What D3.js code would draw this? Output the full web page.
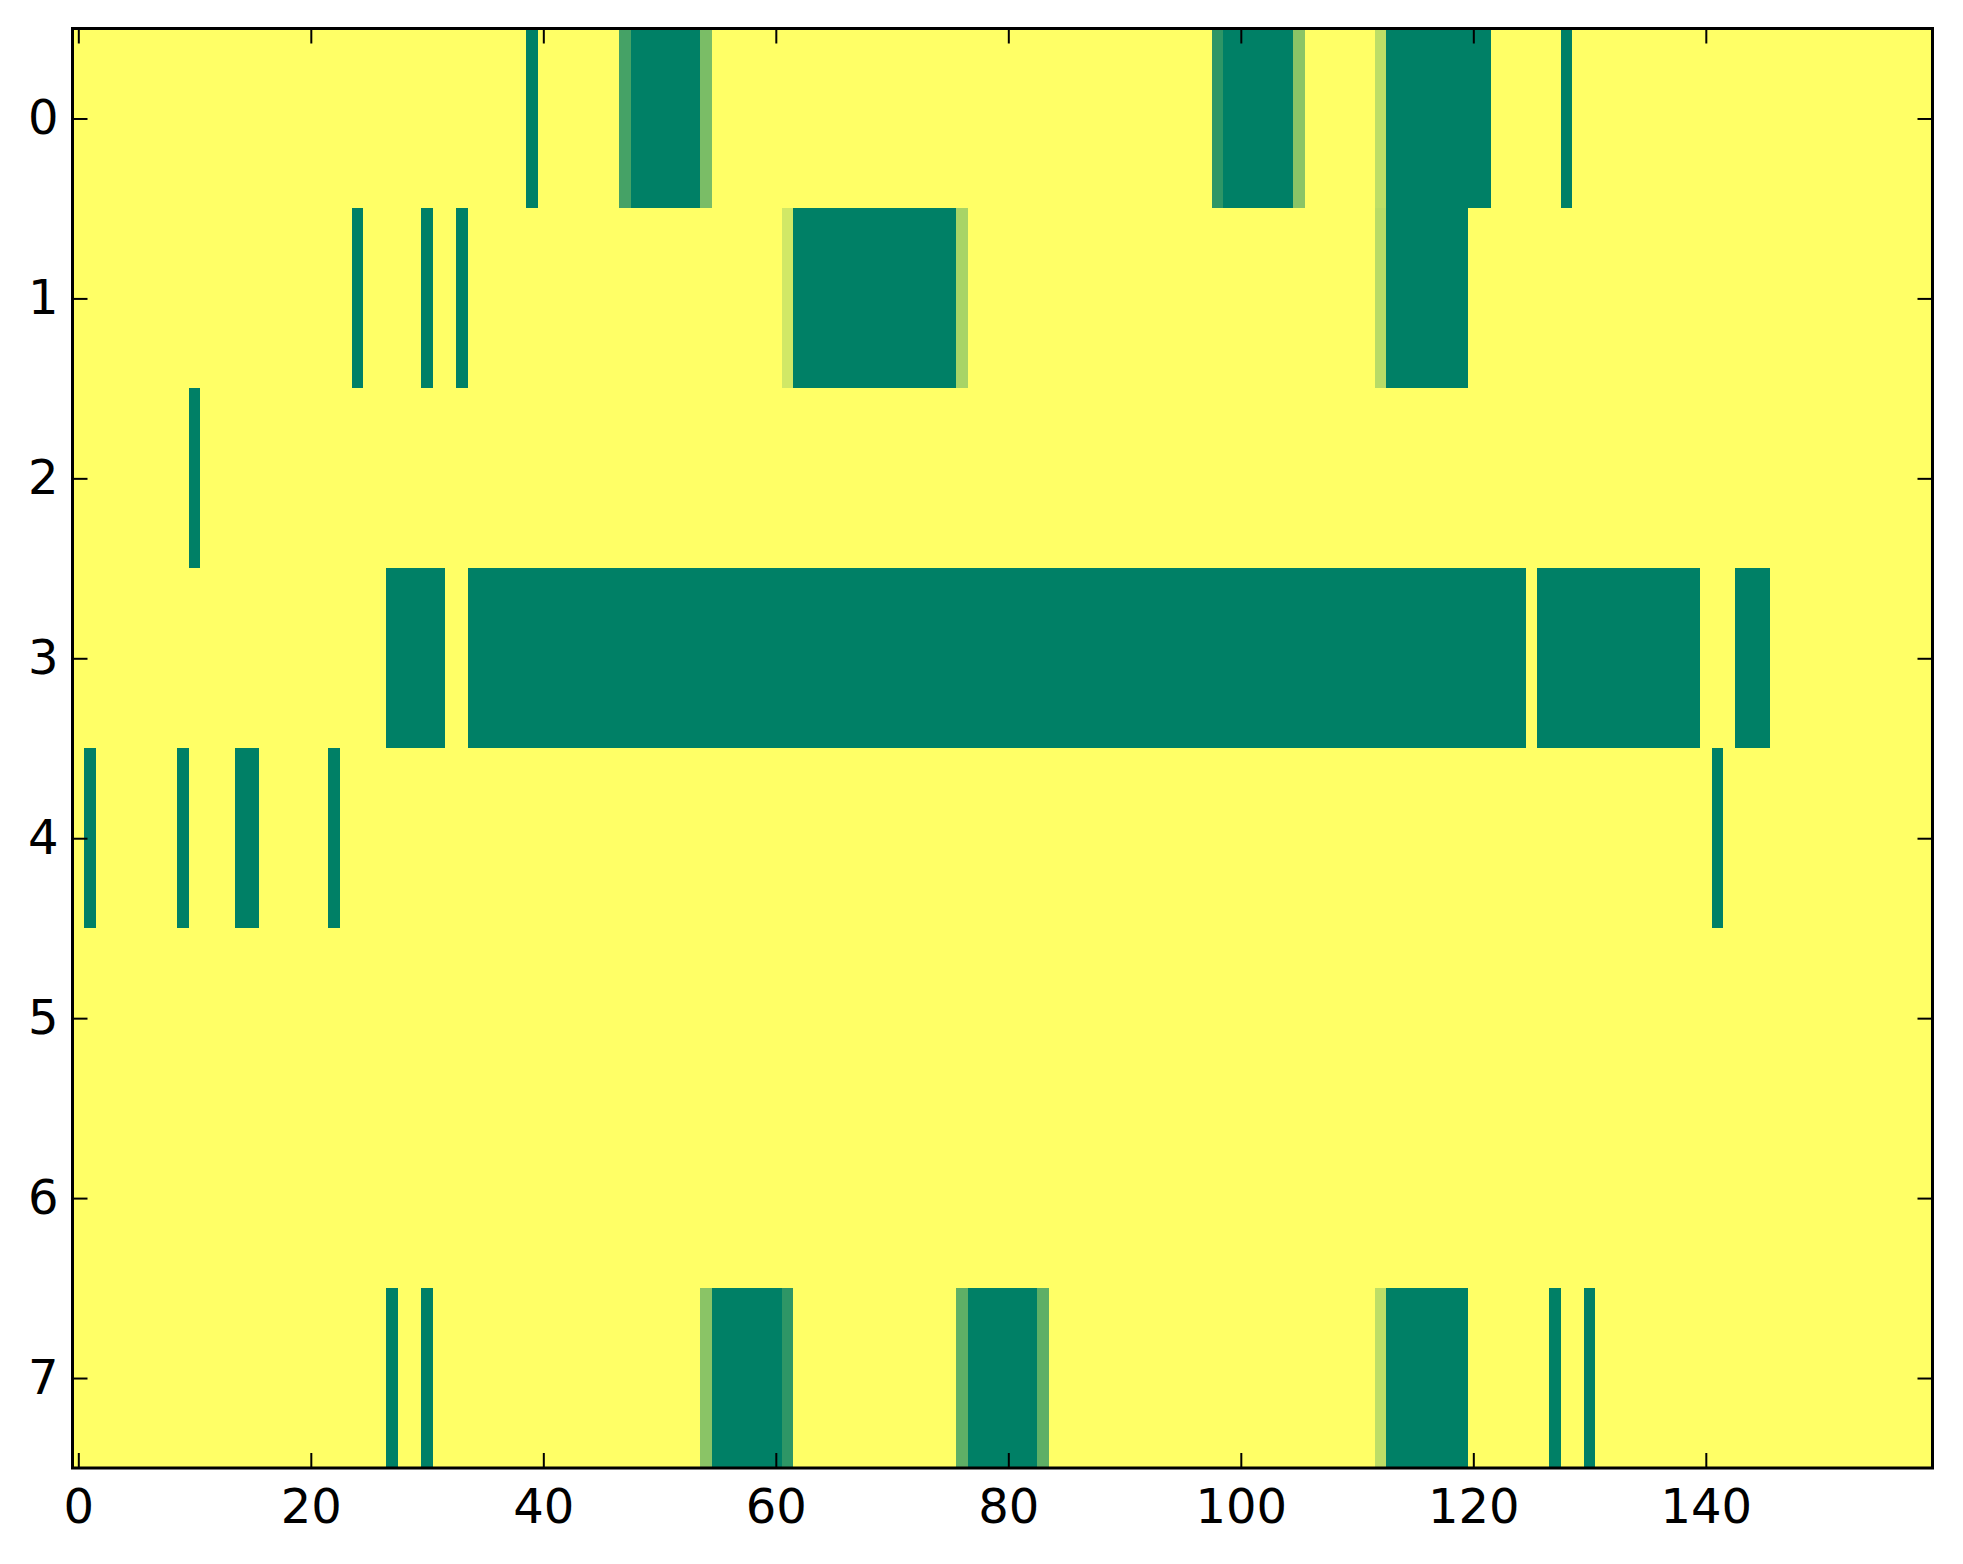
<!DOCTYPE html>
<html>
<head>
<meta charset="utf-8">
<script src="https://cdn.jsdelivr.net/npm/d3@7"></script>
<style>
	body { margin: 0; background: #ffffff; }
	svg { display: block; }
</style>
</head>
<body>
<div id="chart"></div>
<script>

// row labels and x tick values
var rowLabels = [0, 1, 2, 3, 4, 5, 6, 7]
var xTicks = [0, 20, 40, 60, 80, 100, 120, 140]
var nCols = 160

// runs of non-zero cells per row: [firstCol, lastCol, value]
var row0 = [[39,39,1],[47,47,0.73],[48,53,1],[54,54,0.52],[98,98,0.82],[99,104,1],[105,105,0.46],[112,112,0.26],[113,121,1],[128,128,1]]
var row1 = [[24,24,1],[30,30,1],[33,33,1],[61,61,0.18],[62,75,1],[76,76,0.34],[112,112,0.28],[113,119,1]]
var row2 = [[10,10,1]]
var row3 = [[27,31,1],[34,124,1],[126,139,1],[143,145,1]]
var row4 = [[1,1,1],[9,9,1],[14,15,1],[22,22,1],[141,141,1]]
var row5 = []
var row6 = []
var row7 = [[27,27,1],[30,30,1],[54,54,0.46],[55,60,1],[61,61,0.82],[76,76,0.63],[77,82,1],[83,83,0.63],[112,112,0.26],[113,119,1],[127,127,1],[130,130,1]]

var rows = [row0, row1, row2, row3, row4, row5, row6, row7]

// expand runs into a full grid of cells
var cells = []
rows.forEach(function(runs, r) {
	var vals = new Array(nCols).fill(0)
	runs.forEach(function(run) {
		for (var c = run[0]; c <= run[1]; c++) { vals[c] = run[2] }
	})
	vals.forEach(function(v, c) {
		cells.push({row: r, col: c, value: v})
	})
})

// summer colormap, reversed (1 = dark green, 0 = yellow)
function summerR(v) {
	var t = 1 - v
	return d3.rgb(t * 255, (0.5 + 0.5 * t) * 255, 0.4 * 255).toString()
}

var width = 1963
var height = 1564
var margin = {top: 28.5, right: 30.5, bottom: 96, left: 72.5}

var svg = d3.select("#chart").append("svg")
	.attr("width", width)
	.attr("height", height)

var x = d3.scaleLinear().domain([-0.5, nCols - 0.5]).range([margin.left, width - margin.right])
var y = d3.scaleLinear().domain([-0.5, rowLabels.length - 0.5]).range([margin.top, height - margin.bottom])

svg.append("g")
	.selectAll("rect")
	.data(cells)
	.enter().append("rect")
		.attr("x", function(d) { return x(d.col - 0.5) })
		.attr("y", function(d) { return y(d.row - 0.5) })
		.attr("width", function(d) { return x(d.col + 0.5) - x(d.col - 0.5) + 0.5 })
		.attr("height", function(d) { return y(d.row + 0.5) - y(d.row - 0.5) + 0.5 })
		.attr("fill", function(d) { return summerR(d.value) })
		.attr("shape-rendering", "crispEdges")

var tickLen = 15
var fontSize = 48

var xAxis = d3.axisBottom(x).tickValues(xTicks).tickSizeInner(-tickLen).tickSizeOuter(0).tickPadding(21)
var xAxisTop = d3.axisTop(x).tickValues(xTicks).tickSizeInner(-tickLen).tickSizeOuter(0).tickFormat("")
var yAxis = d3.axisLeft(y).tickValues(rowLabels).tickSizeInner(-tickLen).tickSizeOuter(0).tickPadding(14)
var yAxisRight = d3.axisRight(y).tickValues(rowLabels).tickSizeInner(-tickLen).tickSizeOuter(0).tickFormat("")

svg.append("g").attr("class", "x axis")
	.attr("transform", "translate(0," + y.range()[1] + ")")
	.call(xAxis)
svg.append("g").attr("class", "x axis top")
	.attr("transform", "translate(0," + y.range()[0] + ")")
	.call(xAxisTop)
svg.append("g").attr("class", "y axis")
	.attr("transform", "translate(" + x.range()[0] + ",0)")
	.call(yAxis)
svg.append("g").attr("class", "y axis right")
	.attr("transform", "translate(" + x.range()[1] + ",0)")
	.call(yAxisRight)

svg.selectAll(".axis .domain").remove()
svg.selectAll(".axis line").attr("stroke", "#000").attr("stroke-width", 2)
svg.selectAll(".axis text")
	.attr("font-family", "'DejaVu Sans', sans-serif")
	.attr("font-size", fontSize)
	.attr("fill", "#000")

// frame
svg.append("rect")
	.attr("x", x.range()[0])
	.attr("y", y.range()[0])
	.attr("width", x.range()[1] - x.range()[0])
	.attr("height", y.range()[1] - y.range()[0])
	.attr("fill", "none")
	.attr("stroke", "#000")
	.attr("stroke-width", 3)

</script>
</body>
</html>
